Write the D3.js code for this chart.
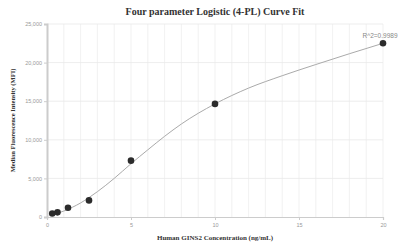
<!DOCTYPE html>
<html>
<head>
<meta charset="utf-8">
<script src="https://cdnjs.cloudflare.com/ajax/libs/d3/7.8.5/d3.min.js"></script>
<style>
  body { margin: 0; background: #fff; }
  .tick text { font-family: "Liberation Sans", Arial, sans-serif; font-size: 5.5px; fill: #999; }
  .axis-title { font-family: "Liberation Serif", "Times New Roman", serif; font-weight: bold; fill: #333; }
</style>
</head>
<body>
<svg id="chart"></svg>
<script>
// measured standards
const concentrations = [0.3125, 0.625, 1.25, 2.5, 5, 10, 20];
const mfiValues = [450, 600, 1200, 2150, 7300, 14650, 22500];

// fitted 4-PL curve
const curveX = [0.3125, 0.625, 1, 1.5, 2, 2.5, 3, 4, 5, 6, 7, 8, 10, 12, 14, 16, 18, 20];
const curveY = [420, 520, 770, 1250, 1820, 2520, 3280, 5000, 6900, 8700, 10450, 12050, 14650, 16700, 18300, 19750, 21150, 22500];

const xTicks = [0, 5, 10, 15, 20];
const yTicks = [0, 5000, 10000, 15000, 20000, 25000];
const r2Label = 'R^2=0.9989';

const width = 400, height = 246;
const margin = {top: 24, right: 17, bottom: 29, left: 47};
const innerW = width - margin.left - margin.right;
const innerH = height - margin.top - margin.bottom;

const svg = d3.select('#chart')
    .attr('width', width)
    .attr('height', height);

const chart = svg.append('g')
    .attr('transform', `translate(${margin.left},${margin.top})`);

const xScale = d3.scaleLinear().domain([0, 20]).range([0, innerW]);
const yScale = d3.scaleLinear().domain([0, 25000]).range([innerH, 0]);

// gridlines
chart.append('g')
  .selectAll('line')
  .data(d3.range(1, 21))
  .join('line')
    .attr('x1', d => xScale(d)).attr('x2', d => xScale(d))
    .attr('y1', 0).attr('y2', innerH)
    .attr('stroke', '#eeeeee').attr('stroke-width', 0.8);

chart.append('g')
  .selectAll('line')
  .data(yTicks.slice(1))
  .join('line')
    .attr('x1', 0).attr('x2', innerW)
    .attr('y1', d => yScale(d)).attr('y2', d => yScale(d))
    .attr('stroke', '#e8e8e8').attr('stroke-width', 0.8);

// axes
const xAxisG = chart.append('g')
    .attr('transform', `translate(0,${innerH})`)
    .call(d3.axisBottom(xScale).tickValues(xTicks).tickSize(3).tickPadding(3));
const yAxisG = chart.append('g')
    .call(d3.axisLeft(yScale).tickValues(yTicks).tickSize(3).tickPadding(2).tickFormat(d3.format(',')));

xAxisG.select('.domain').attr('stroke', '#ccc').attr('stroke-width', 1.2);
yAxisG.select('.domain').attr('stroke', '#ccc').attr('stroke-width', 2);
chart.selectAll('.tick line').attr('stroke', '#ccc');

// fitted curve
const line = d3.line()
    .x((d, i) => xScale(curveX[i]))
    .y(d => yScale(d))
    .curve(d3.curveMonotoneX);

chart.append('path')
    .datum(curveY)
    .attr('fill', 'none')
    .attr('stroke', '#aaa')
    .attr('stroke-width', 1)
    .attr('d', line);

// points
chart.selectAll('.point')
    .data(mfiValues)
  .join('circle')
    .attr('class', 'point')
    .attr('r', 3.3)
    .attr('cx', (d, i) => xScale(concentrations[i]))
    .attr('cy', d => yScale(d))
    .attr('fill', '#2b2b2b');

// R^2 label
chart.append('text')
    .attr('x', xScale(20) - 3)
    .attr('y', yScale(22500) - 5)
    .attr('text-anchor', 'middle')
    .style('font-family', '"Liberation Sans", Arial, sans-serif')
    .style('font-size', '6.5px')
    .attr('fill', '#888')
    .text(r2Label);

// titles
svg.append('text')
    .attr('class', 'axis-title')
    .attr('x', margin.left + innerW / 2)
    .attr('y', 15)
    .attr('text-anchor', 'middle')
    .style('font-size', '10px')
    .text('Four parameter Logistic (4-PL) Curve Fit');

svg.append('text')
    .attr('class', 'axis-title')
    .attr('x', margin.left + innerW / 2)
    .attr('y', 240)
    .attr('text-anchor', 'middle')
    .style('font-size', '7px')
    .text('Human GINS2 Concentration (ng/mL)');

svg.append('text')
    .attr('class', 'axis-title')
    .attr('transform', `translate(15,${margin.top + innerH / 2}) rotate(-90)`)
    .attr('text-anchor', 'middle')
    .style('font-size', '6.5px')
    .text('Median Fluorescence Intensity (MFI)');
</script>
</body>
</html>
